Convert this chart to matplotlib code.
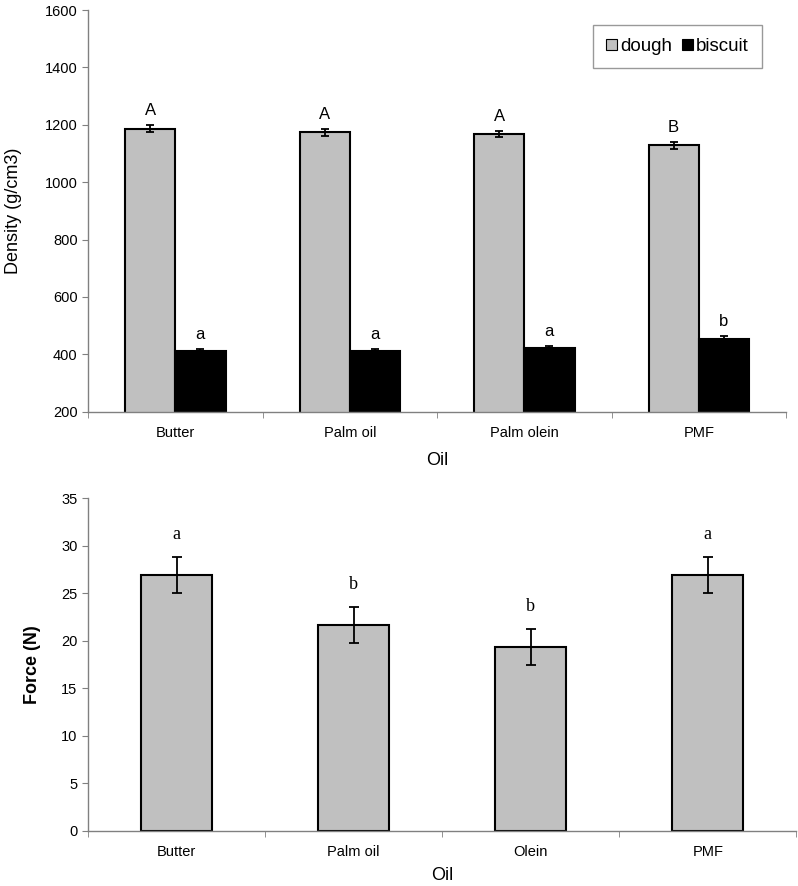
import numpy as np
import matplotlib.pyplot as plt

# Density data (top panel)
oils_top = ["Butter", "Palm oil", "Palm olein", "PMF"]
dough = [1186, 1174, 1168, 1129]
dough_err = [12, 12, 12, 12]
biscuit = [411, 411, 421, 455]
biscuit_err = [8, 8, 8, 8]
dough_letters = ["A", "A", "A", "B"]
biscuit_letters = ["a", "a", "a", "b"]

# Force data (bottom panel)
oils_bot = ["Butter", "Palm oil", "Olein", "PMF"]
force = [26.9, 21.7, 19.4, 26.9]
force_err = [1.9, 1.9, 1.9, 1.9]
force_letters = ["a", "b", "b", "a"]

plt.rcParams['font.family'] = ['Liberation Sans', 'DejaVu Sans']
spine_col = "#808080"

fig = plt.figure(figsize=(7.98, 8.86), dpi=100)
ax1 = fig.add_axes([0.1103, 0.5353, 0.8747, 0.4534])
ax2 = fig.add_axes([0.1103, 0.0621, 0.8877, 0.3755])

def style(ax, labels):
    for s in ["top", "right"]:
        ax.spines[s].set_visible(False)
    for s in ["left", "bottom"]:
        ax.spines[s].set_color(spine_col)
        ax.spines[s].set_linewidth(1.0)
    ax.set_xlim(-0.5, len(labels) - 0.5)
    ax.set_xticks(np.arange(len(labels)))
    ax.set_xticklabels(labels, fontsize=10.5)
    ax.set_xticks(np.arange(len(labels) + 1) - 0.5, minor=True)
    ax.tick_params(axis="x", which="major", length=0, pad=10)
    ax.tick_params(axis="x", which="minor", length=4, color=spine_col, direction="out")
    ax.tick_params(axis="y", length=4, color=spine_col, labelsize=10.5, direction="out")

# top panel
x = np.arange(len(oils_top))
w = 0.288
ax1.bar(x - w / 2, dough, w, color="#c0c0c0", edgecolor="black",
        linewidth=1.5, label="dough", zorder=2)
ax1.bar(x + w / 2, biscuit, w, color="black", edgecolor="black",
        linewidth=1.5, label="biscuit", zorder=2)
ax1.errorbar(x - w / 2, dough, yerr=dough_err, fmt="none", ecolor="black",
             elinewidth=1.3, capsize=3, capthick=1.3, zorder=3)
ax1.errorbar(x + w / 2, biscuit, yerr=biscuit_err, fmt="none", ecolor="black",
             elinewidth=1.3, capsize=3, capthick=1.3, zorder=3)
for i in range(len(oils_top)):
    ax1.annotate(dough_letters[i], (x[i] - w / 2, dough[i] + dough_err[i]),
                 xytext=(0, 5), textcoords="offset points", ha="center",
                 va="bottom", fontsize=12)
    ax1.annotate(biscuit_letters[i], (x[i] + w / 2, biscuit[i] + biscuit_err[i]),
                 xytext=(0, 5), textcoords="offset points", ha="center",
                 va="bottom", fontsize=12)
ax1.set_ylim(200, 1600)
ax1.set_yticks(np.arange(200, 1601, 200))
style(ax1, oils_top)
ax1.set_ylabel("Density (g/cm3)", fontsize=13)
ax1.yaxis.set_label_coords(-0.095, 0.5)
ax1.set_xlabel("Oil", fontsize=13, va="top")
ax1.xaxis.set_label_coords(0.5, -0.1)
leg = ax1.legend(loc="upper left", bbox_to_anchor=(0.7235, 0.9627), ncol=2,
                 fontsize=13.5, frameon=True, fancybox=False, handlelength=0.6,
                 handleheight=0.6, handletextpad=0.15, columnspacing=0.5,
                 borderpad=0.7, borderaxespad=0)
leg.get_frame().set_edgecolor(spine_col)
leg.get_frame().set_linewidth(1.0)
for h in leg.legend_handles:
    h.set_linewidth(0.8)

# bottom panel
x2 = np.arange(len(oils_bot))
ax2.bar(x2, force, 0.4, color="#c0c0c0", edgecolor="black", linewidth=1.5, zorder=2)
ax2.errorbar(x2, force, yerr=force_err, fmt="none", ecolor="black",
             elinewidth=1.3, capsize=3.5, capthick=1.3, zorder=3)
for i in range(len(oils_bot)):
    ax2.annotate(force_letters[i], (x2[i], force[i] + force_err[i]),
                 xytext=(0, 10), textcoords="offset points", ha="center",
                 va="bottom", fontsize=13, family="Liberation Serif")
ax2.set_ylim(0, 35)
ax2.set_yticks(np.arange(0, 36, 5))
style(ax2, oils_bot)
ax2.set_ylabel("Force (N)", fontsize=13, fontweight="bold")
ax2.yaxis.set_label_coords(-0.066, 0.5)
ax2.set_xlabel("Oil", fontsize=13, va="top")
ax2.xaxis.set_label_coords(0.5, -0.108)

fig.savefig("out.png", dpi=100)
